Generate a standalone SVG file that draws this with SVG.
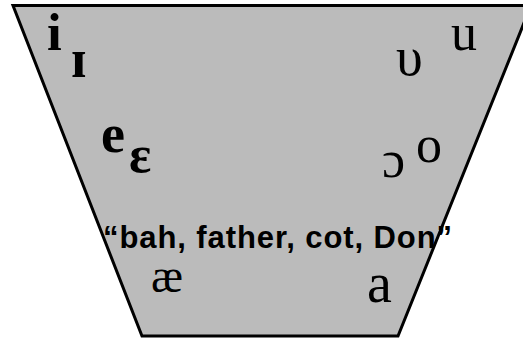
<svg xmlns="http://www.w3.org/2000/svg" width="523" height="341" viewBox="0 0 523 341">
<style>
.ipa{font-family:"Liberation Serif","DejaVu Serif",serif;fill:#000}
.b{font-weight:bold}
.lbl{font-family:"Liberation Sans",Arial,sans-serif;font-weight:bold;font-size:31px;fill:#000}
</style>
<rect width="523" height="341" fill="#fff"/>
<g id="chart">
<polygon points="13,5.5 531,5.5 398,336 142,336" fill="#bbbbbb" stroke="#000" stroke-width="3" stroke-linejoin="miter"/>
</g>
<g id="vowels">
<g id="v-i"><text class="ipa b" x="47" y="50" font-size="53">i</text></g>
<g id="v-I"><text class="ipa b" x="71" y="77" font-size="54">ɪ</text></g>
<g id="v-u"><text class="ipa" x="451" y="50" font-size="52">u</text></g>
<g id="v-U"><text class="ipa" x="396" y="75" font-size="54">υ</text></g>
<g id="v-e"><text class="ipa b" x="101" y="152" font-size="54">e</text></g>
<g id="v-eps"><text class="ipa b" x="129" y="172" font-size="52">ε</text></g>
<g id="v-o"><text class="ipa" x="416" y="162" font-size="52">o</text></g>
<g id="v-oo"><text class="ipa" x="382" y="177" font-size="52">ɔ</text></g>
<g id="v-ae"><text class="ipa" x="151" y="292" font-size="48">æ</text></g>
<g id="v-a"><text class="ipa" x="367" y="302" font-size="56">a</text></g>
</g>
<g id="label"><text class="lbl" x="103" y="248" textLength="349" lengthAdjust="spacing">“bah, father, cot, Don”</text></g>
</svg>
